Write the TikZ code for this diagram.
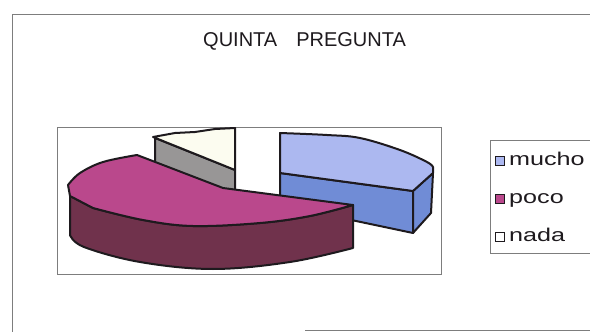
\documentclass[tikz,border=0pt]{standalone}
\usepackage{fontspec}
\setmainfont{Liberation Sans}
\usepackage{tikz}
\usetikzlibrary{positioning}
\definecolor{Ink}{RGB}{30,26,30}
\definecolor{FrameGray}{RGB}{125,125,125}
\definecolor{MuchoTop}{RGB}{172,184,240}
\definecolor{MuchoSide}{RGB}{112,140,214}
\definecolor{PocoTop}{RGB}{186,72,140}
\definecolor{PocoSide}{RGB}{112,50,76}
\definecolor{NadaTop}{RGB}{252,252,240}
\definecolor{NadaSide}{RGB}{152,150,150}
\tikzset{%
  chart_frame/.style={%
    draw=FrameGray,%
    line width=0.8pt,%
  },
  slice_face/.style={%
    draw=Ink,%
    line width=2pt,%
    line join=round,%
  },
  key_box/.style={%
    rectangle,%
    draw=Ink,%
    line width=1.5pt,%
    minimum width=9pt,%
    minimum height=9pt,%
    inner sep=0pt,%
  },
  key_label/.style={%
    anchor=base west,%
    inner sep=0pt,%
    text=Ink,%
    font={\fontsize{18.5}{20}\selectfont},%
  },
  chart_title/.style={%
    anchor=base west,%
    inner sep=0pt,%
    text=Ink,%
    font={\fontsize{20}{22}\selectfont},%
  },
}

\begin{document}
\begin{tikzpicture}[x=1pt, y=-1pt]
    \useasboundingbox (0,0) rectangle (590,332);

    % outer chart frame, plot area, legend frame
    \draw [chart_frame] (12,332) -- (12,14) -- (590,14);
    \draw [chart_frame] (305,330) -- (590,330);
    \draw [chart_frame] (57,127) rectangle (441,274);
    \draw [chart_frame] (590,140) -- (490,140) -- (490,253) -- (590,253);

    \node [chart_title] (Title) at (203,46) {QUINTA\hspace{19pt}PREGUNTA};

    % nada
    \draw [slice_face, fill=NadaSide]
      (155,138) -- (235,170) -- (235,213) -- (155,181) -- cycle;
    \draw [slice_face, fill=NadaTop]
      (153,137) -- (175,133) -- (195,132) -- (215,129) -- (235,128)
      -- (235,170) -- cycle;

    % mucho
    \draw [slice_face, fill=MuchoSide]
      (280,173) -- (413,191) -- (413,233) -- (280,205) -- cycle;
    \draw [slice_face, fill=MuchoSide]
      (413,191) -- (433,173) -- (431,213) -- (413,233) -- cycle;
    \draw [slice_face, fill=MuchoTop]
      (280,173)
      --
      plot [smooth, tension=0.6] coordinates {%
        (280,133) (327,135) (360,138) (400,150) (427,162) (433,167)}
      --
      (433,173)
      --
      (413,191)
      --
      cycle;

    % poco
    \draw [slice_face, fill=PocoSide]
      (70,196)
      --
      plot [smooth, tension=0.6] coordinates {%
        (93,208) (143,220) (193,226) (260,223) (310,216) (353,205)}
      --
      plot [smooth, tension=0.6] coordinates {%
        (353,248) (290,262) (213,269) (140,262) (84,247) (70,235)}
      --
      cycle;
    \draw [slice_face, fill=PocoTop]
      (70,196)
      --
      plot [smooth, tension=0.6] coordinates {%
        (68,185) (80,173) (103,162) (137,155)}
      --
      (223,188)
      --
      plot [smooth, tension=0.6] coordinates {%
        (353,205) (310,216) (260,223) (193,226) (143,220) (93,208)}
      --
      cycle;

    % legend
    \node [key_box, fill=MuchoTop] (MuchoKey) at (500,161) {};
    \node [key_box, fill=PocoTop] (PocoKey) at (500,199) {};
    \node [key_box, fill=white] (NadaKey) at (500,237) {};
    \node [key_label] (MuchoText) at (509,165) {\scalebox{1.36}[1]{mucho}};
    \node [key_label] (PocoText) at (509,203) {\scalebox{1.36}[1]{poco}};
    \node [key_label] (NadaText) at (509,241.5) {\scalebox{1.36}[1]{nada}};
  \end{tikzpicture}
\end{document}
